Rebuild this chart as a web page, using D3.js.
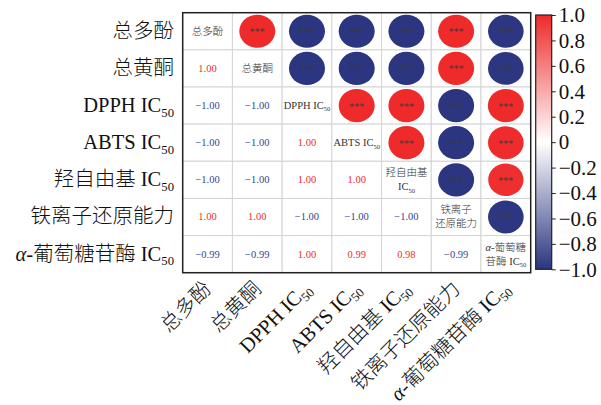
<!DOCTYPE html>
<html>
<head>
<meta charset="utf-8">
<script src="https://cdn.jsdelivr.net/npm/d3@7"></script>
<style>
  html, body { margin: 0; padding: 0; background: #fff; }
  svg { display: block; }
  text { font-family: "Liberation Serif", "Noto Sans CJK SC", serif; font-weight: 300; }
</style>
</head>
<body>
<svg id="chart" width="601" height="405"></svg>
<script>
// Variables (row/column order)
const variables = ["总多酚", "总黄酮", "DPPH IC50", "ABTS IC50", "羟自由基 IC50", "铁离子还原能力", "α-葡萄糖苷酶 IC50"];
// Two-line versions used on the diagonal
const diagonalLines = [["总多酚"], ["总黄酮"], ["DPPH IC50"], ["ABTS IC50"], ["羟自由基", "IC50"], ["铁离子", "还原能力"], ["α-葡萄糖", "苷酶 IC50"]];
// Lower triangle of the correlation matrix (row i, columns 0..i-1)
const corrLower = [
  [],
  [1.00],
  [-1.00, -1.00],
  [-1.00, -1.00, 1.00],
  [-1.00, -1.00, 1.00, 1.00],
  [1.00, 1.00, -1.00, -1.00, -1.00],
  [-0.99, -0.99, 1.00, 0.99, 0.98, -0.99]
];
// Significance marks for every off-diagonal pair
const significance = "***";
const colorbarTicks = [1.0, 0.8, 0.6, 0.4, 0.2, 0, -0.2, -0.4, -0.6, -0.8, -1.0];

const n = variables.length;
const corr = (i, j) => i === j ? 1 : (i > j ? corrLower[i][j] : corrLower[j][i]);

const svg = d3.select("#chart");
const plot = { left: 182.7, right: 530.7, top: 12.7, bottom: 272.7 };
const idx = d3.range(n);
const x = d3.scaleBand().domain(idx).range([plot.left, plot.right]);
const y = d3.scaleBand().domain(idx).range([plot.top, plot.bottom]);

const RED = "#ee2a2b", BLUE = "#2b3580";
const color = d3.scaleLinear().domain([-1, 0, 1]).range([BLUE, "#ffffff", RED]);
const rx = d3.scaleLinear().domain([0, 1]).range([0, 18]);
const ry = d3.scaleLinear().domain([0, 1]).range([0, 16.6]);

// Writes a label into a <text>, with italic α and subscript 50
function writeLabel(sel, str, size) {
  let s = str;
  if (s.startsWith("α-")) {
    sel.append("tspan").attr("font-style", "italic").text("α");
    s = s.slice(1);
  }
  const m = s.match(/^(.*IC)50$/);
  if (m) {
    sel.append("tspan").text(m[1]);
    sel.append("tspan").attr("font-size", size * 0.62).attr("dy", size * 0.22).text("50");
  } else {
    sel.append("tspan").text(s);
  }
}

// grid cells
const cells = [];
idx.forEach(i => idx.forEach(j => cells.push({ i, j, r: corr(i, j) })));

svg.append("g").selectAll("rect").data(cells).join("rect")
  .attr("x", d => x(d.j)).attr("y", d => y(d.i))
  .attr("width", x.bandwidth()).attr("height", y.bandwidth())
  .attr("fill", "#fff").attr("stroke", "#d4d4d4").attr("stroke-width", 1);

// upper triangle: ellipses with significance stars
const upper = cells.filter(d => d.j > d.i);
svg.append("g").selectAll("ellipse").data(upper).join("ellipse")
  .attr("cx", d => x(d.j) + x.bandwidth() / 2)
  .attr("cy", d => y(d.i) + y.bandwidth() / 2)
  .attr("rx", d => rx(Math.abs(d.r)))
  .attr("ry", d => ry(Math.abs(d.r)))
  .attr("fill", d => color(d.r));

svg.append("g").selectAll("text").data(upper).join("text")
  .attr("x", d => x(d.j) + x.bandwidth() / 2)
  .attr("y", d => y(d.i) + y.bandwidth() / 2 + 4)
  .attr("text-anchor", "middle")
  .attr("font-size", 10)
  .attr("fill", "#3a3a3a")
  .text(significance);

// lower triangle: coefficients
const lower = cells.filter(d => d.j < d.i);
svg.append("g").selectAll("text").data(lower).join("text")
  .attr("x", d => x(d.j) + x.bandwidth() / 2)
  .attr("y", d => y(d.i) + y.bandwidth() / 2 + 3.5)
  .attr("text-anchor", "middle")
  .attr("font-size", 10.5)
  .attr("fill", d => d.r > 0 ? "#ee2a2b" : "#34438f")
  .text(d => d3.format(".2f")(d.r).replace("-", "−"));

// diagonal: variable names
idx.forEach(i => {
  const lines = diagonalLines[i];
  const cx = x(i) + x.bandwidth() / 2, cy = y(i) + y.bandwidth() / 2;
  lines.forEach((ln, k) => {
    const t = svg.append("text")
      .attr("x", cx)
      .attr("y", cy + 3.5 + (k - (lines.length - 1) / 2) * 14)
      .attr("text-anchor", "middle")
      .attr("font-size", 10.5)
      .attr("fill", "#333");
    writeLabel(t, ln, 10.5);
  });
});

// outer frame
svg.append("rect")
  .attr("x", plot.left).attr("y", plot.top)
  .attr("width", plot.right - plot.left).attr("height", plot.bottom - plot.top)
  .attr("fill", "none").attr("stroke", "#222").attr("stroke-width", 1.5);

// row labels
idx.forEach(i => {
  const t = svg.append("text")
    .attr("x", 174)
    .attr("y", y(i) + y.bandwidth() / 2 + 6.5)
    .attr("text-anchor", "end")
    .attr("font-size", 20.5)
    .attr("fill", "#111");
  writeLabel(t, variables[i], 20.5);
});

// column labels, rotated
idx.forEach(j => {
  const ax = x(j) + x.bandwidth() / 2 + 5, ay = 290;
  const t = svg.append("text")
    .attr("transform", `translate(${ax},${ay}) rotate(-45)`)
    .attr("text-anchor", "end")
    .attr("font-size", 20.5)
    .attr("fill", "#111");
  writeLabel(t, variables[j], 20.5);
});

// colour bar
const cbX = 535.7, cbW = 16;
const cbY = d3.scaleLinear().domain([1, -1]).range([15, 269.3]);
const defs = svg.append("defs");
const grad = defs.append("linearGradient").attr("id", "cbar")
  .attr("x1", 0).attr("y1", 0).attr("x2", 0).attr("y2", 1);
d3.range(0, 1.0001, 0.1).forEach(p => {
  grad.append("stop").attr("offset", p).attr("stop-color", color(1 - 2 * p));
});
svg.append("rect")
  .attr("x", cbX).attr("y", cbY(1))
  .attr("width", cbW).attr("height", cbY(-1) - cbY(1))
  .attr("fill", "url(#cbar)").attr("stroke", "#222").attr("stroke-width", 1.2);

const axis = d3.axisRight(cbY).tickValues(colorbarTicks).tickSize(4).tickPadding(3)
  .tickFormat(v => v === 0 ? "0" : d3.format(".1f")(v).replace("-", "−"));
const ag = svg.append("g").attr("transform", `translate(${cbX + cbW},0)`).call(axis);
ag.select(".domain").remove();
ag.selectAll(".tick line").attr("stroke", "#222");
ag.selectAll(".tick text")
  .attr("font-family", "Liberation Serif, serif")
  .attr("font-size", 21).attr("fill", "#111");
</script>
</body>
</html>
